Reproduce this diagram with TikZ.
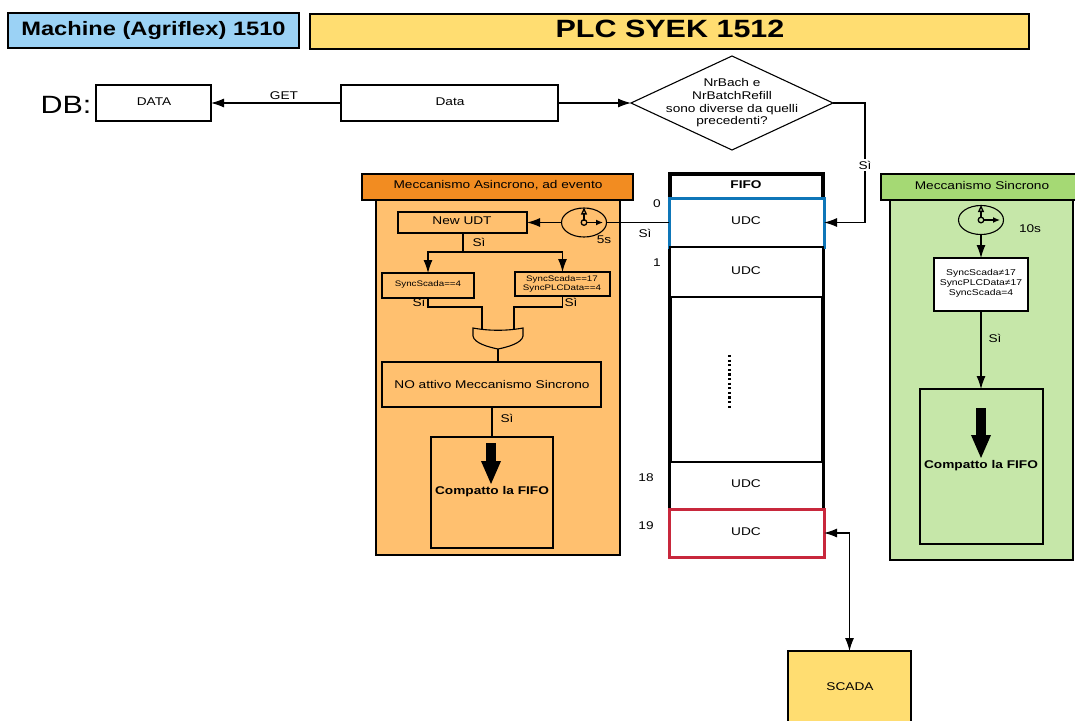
\documentclass[tikz,border=0pt]{standalone}
\usepackage{fontspec}
\setmainfont[FakeStretch=1.22]{Liberation Sans}
\usetikzlibrary{arrows.meta,shapes.geometric}
\definecolor{headblue}{HTML}{9BD2F5}
\definecolor{headyellow}{HTML}{FFDD71}
\definecolor{headorange}{HTML}{F28C21}
\definecolor{bodyorange}{HTML}{FFC06F}
\definecolor{headgreen}{HTML}{A5D974}
\definecolor{bodygreen}{HTML}{C6E7A9}
\definecolor{udcblue}{HTML}{0E76B8}
\definecolor{udcred}{HTML}{C8283C}
\newcommand{\sizept}[1]{\fontsize{#1}{#1}\selectfont\baselineskip=1.2\baselineskip}
\begin{document}
\begin{tikzpicture}[x=1pt,y=-1pt,line width=1.1pt,>={Latex[length=13pt,width=9pt]},
        every node/.style={inner sep=0pt,outer sep=0pt,align=center,font=\sizept{11.2}},
        box/.style={draw,rectangle,fill=white,minimum width=#1},
        box/.default=100pt,
        label/.style={font=\sizept{11.2}},
        clockface/.style={draw,ellipse,minimum width=45pt,minimum height=29pt},
        bigarrow/.style={-{Triangle[length=24pt,width=18pt]},line width=10pt}]
    \clip (0,0) rectangle (1075,720);

    \node (machine) [box=291pt,minimum height=35pt,fill=headblue,font=\sizept{19.4}\bfseries] at (153.5,30.5) {Machine (Agriflex) 1510};
    \node (plc) [box=719pt,minimum height=35pt,fill=headyellow] at (669.5,31.5) {};
    \node (plctext) [font=\sizept{25}\bfseries] at (670,28.5) {PLC SYEK 1512};

    \node (dblabel) [font=\sizept{25}] at (66,105) {DB:};
    \node (dbdata) [box=115pt,minimum height=36pt] at (153.5,103) {};
    \node (dbtext) at (154,102) {DATA};
    \node (data) [box=217pt,minimum height=36pt] at (449.5,103) {};
    \node (datatext) at (450,102) {Data};
    \node (check) [draw,diamond,fill=white,minimum width=202pt,minimum height=94pt,aspect=2.15] at (732,103) {};
    \node (checktext) [font=\fontsize{11.2}{12.7}\selectfont] at (732,103) {NrBach e\\NrBatchRefill\\sono diverse da quelli\\precedenti?};
    \node (getlabel) [label] at (284,96) {GET};

    \node (asyncbody) [draw,fill=bodyorange,minimum width=244pt,minimum height=355pt] at (498,377.5) {};
    \node (asynchead) [draw,fill=headorange,minimum width=271pt,minimum height=26pt] at (497.5,187) {};
    \node (asynctext) at (498,185.5) {Meccanismo Asincrono, ad evento};
    \node (syncbody) [draw,fill=bodygreen,minimum width=183pt,minimum height=360pt] at (981.5,380) {};
    \node (synchead) [draw,fill=headgreen,minimum width=196pt,minimum height=26pt] at (979,187) {};
    \node (synctext) at (982,185.5) {Meccanismo Sincrono};

    \node (fifoframe) [draw,line width=4.5pt,fill=white,minimum width=153pt,minimum height=383pt] at (746.5,365.5) {};
    \node (fifotitle) [font=\sizept{11.2}\bfseries] at (746,184.5) {FIFO};
    \node (udcmid) [draw,fill=white,minimum width=150pt,minimum height=165pt] at (746.5,379.5) {};
    \node (udca) [box=155pt,minimum height=49pt,draw=udcblue,line width=3pt] at (746.5,222.5) {};
    \node (udcb) [box=153pt,minimum height=50pt] at (746.5,272) {};
    \node (udcc) [box=153pt,minimum height=47pt] at (746.5,485.5) {};
    \node (udcd) [box=155pt,minimum height=48pt,draw=udcred,line width=3pt] at (746.5,533) {};
    \node (udcatext) at (746,221) {UDC};
    \node (udcbtext) at (746,271) {UDC};
    \node (udcctext) at (746,484) {UDC};
    \node (udcdtext) at (746,532) {UDC};
    \node (numa) at (657,203.5) {0};
    \node (numb) at (657,262.5) {1};
    \node (numc) at (646,477.5) {18};
    \node (numd) at (646,525.5) {19};
    \coordinate (dotstop) at (729,355);
    \coordinate (dotsbottom) at (729,409);
    \draw[line width=3pt,dash pattern=on 2.2pt off 2.4pt] (dotstop) -- (dotsbottom);

    \node (clockasync) [clockface] at (584,222.5) {};
    \node (clocksync) [clockface] at (981,220) {};
    \node (timeasync) at (604,240) {5s};
    \node (timesync) at (1030,228.5) {10s};
    \foreach \clockname in {clockasync,clocksync} {
        \draw[line width=1.3pt,-{Triangle[open,length=7pt,width=6pt]}] (\clockname.center) ++(0,-2) -- ++(0,-13);
        \draw[line width=1.3pt,-{Latex[length=7pt,width=6pt]}] (\clockname.center) ++(3,0) -- ++(16,0);
        \draw[line width=1.3pt] (\clockname.center) circle (2.8pt);
    }

    \node (newudt) [box=129pt,minimum height=21pt,fill=bodyorange] at (462.5,222.5) {};
    \node (newudttext) at (462,221) {New UDT};
    \node (syncfour) [box=92pt,minimum height=25pt,fill=bodyorange] at (428,285.5) {};
    \node (syncfourtext) [font=\sizept{8}] at (428,284.5) {SyncScada==4};
    \node (syncseventeen) [box=95pt,minimum height=24pt,fill=bodyorange] at (562.5,284) {};
    \node (syncseventeentext) [font=\sizept{8}] at (562,284) {SyncScada==17\\SyncPLCData==4};
    \node (noactive) [box=219pt,minimum height=45pt,fill=bodyorange] at (491.5,384.5) {};
    \node (noactivetext) at (492,384) {NO attivo Meccanismo Sincrono};
    \node (compactasync) [box=122pt,minimum height=111pt,fill=bodyorange] at (492,492.5) {};
    \node (compactasynctext) [font=\sizept{11.2}\bfseries] at (492,492) {Compatto la FIFO};

    \node (syncrules) [box=94pt,minimum height=53pt] at (981,284.5) {};
    \node (syncrulestext) [font=\sizept{8.5}] at (981,283.5) {SyncScada≠17\\SyncPLCData≠17\\SyncScada=4};
    \node (compactsync) [box=123pt,minimum height=155pt,fill=bodygreen] at (981.5,466.5) {};
    \node (compactsynctext) [font=\sizept{11.2}\bfseries] at (981,466) {Compatto la FIFO};

    \draw[->] (data.west) -- (dbdata.east);
    \draw[->] (data.east) -- (check.west);
    \draw[->] (check.east) -- ++(32,0) |- (udca.east);
    \node (sicheck) [fill=white,inner sep=1.5pt] at (865,165) {Sì};
    \draw (udca.west) -- (clockasync.east);
    \draw[->] (clockasync.west) -- (newudt.east);
    \node (siclock) at (645,233.5) {Sì};

    \coordinate (fork) at (463,252);
    \draw (newudt.south -| fork) -- (fork);
    \draw[->] (fork) -| (syncfour.north);
    \draw[->] (fork) -| (syncseventeen.north);
    \node (sifork) at (479,242.5) {Sì};

    \coordinate (gateleft) at (482,328.5);
    \coordinate (gateright) at (514,328.5);
    \coordinate (gatecornera) at (473,328);
    \coordinate (gatecornerb) at (523,328);
    \coordinate (gatetip) at (498,349);
    \draw (syncfour.south) -- ++(0,9) -| (gateleft);
    \draw (syncseventeen.south) -- ++(0,11) -| (gateright);
    \draw (gatecornera) .. controls (489,331) and (507,331) .. (gatecornerb)
        -- ++(0,8) .. controls (522,343) and (508,347) .. (gatetip)
        .. controls (488,347) and (474,343) .. (473,336) -- cycle;
    \draw (gatetip) -- (gatetip |- noactive.north);
    \node (sigatea) at (419,302.5) {Sì};
    \node (sigateb) at (571,302.5) {Sì};

    \draw (noactive.south -| compactasync.north) -- (compactasync.north);
    \node (sinoactive) at (507,418.5) {Sì};
    \draw[bigarrow] (491,443) -- (491,485);

    \draw[->] (clocksync.south) -- (syncrules.north);
    \draw[->] (syncrules.south) -- (compactsync.north -| syncrules.south);
    \node (sirules) at (995,338.5) {Sì};
    \draw[bigarrow] (981,408) -- (981,459);

    \node (scada) [box=123pt,minimum height=80pt,fill=headyellow] at (849.5,691) {};
    \node (scadatext) at (850,686.5) {SCADA};
    \draw[<->] (udcd.east) -| (scada.north);
\end{tikzpicture}
\end{document}
